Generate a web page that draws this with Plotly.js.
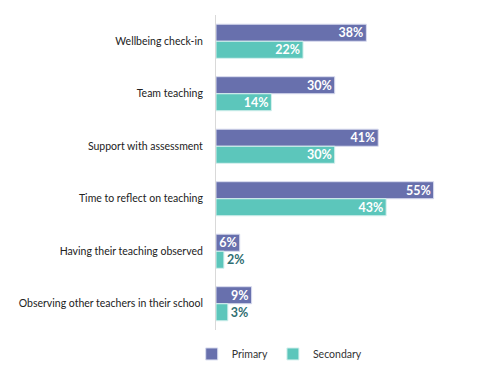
<!DOCTYPE html>
<html>
<head>
<meta charset="utf-8">
<script src="https://cdn.plot.ly/plotly-3.0.1.min.js"></script>
<style>html,body{margin:0;padding:0;background:#fff;}#chart{width:500px;height:382px;}</style>
</head>
<body>
<div id="chart"></div>
<script>
const categories = [
  "Wellbeing check-in",
  "Team teaching",
  "Support with assessment",
  "Time to reflect on teaching",
  "Having their teaching observed",
  "Observing other teachers in their school"
];
const primary = [38, 30, 41, 55, 6, 9];
const secondary = [22, 14, 30, 43, 2, 3];

function pos(vals){ return vals.map(v => v >= 5 ? 'inside' : 'outside'); }
function labels(vals){ return vals.map(v => v + '%'); }

const font = "Lato, 'Open Sans', sans-serif";

const traces = [
  {
    type: 'bar', orientation: 'h', name: 'Primary',
    y: categories, x: primary,
    text: labels(primary), textposition: pos(primary),
    insidetextanchor: 'end', constraintext: 'none',
    insidetextfont: {color: '#ffffff', size: 12.5, family: font, weight: 'bold'},
    outsidetextfont: {color: '#2f6e72', size: 12.5, family: font, weight: 'bold'},
    marker: {color: '#6870ad', line: {color: '#d9dcef', width: 1}},
    cliponaxis: false, hoverinfo: 'skip'
  },
  {
    type: 'bar', orientation: 'h', name: 'Secondary',
    y: categories, x: secondary,
    text: labels(secondary), textposition: pos(secondary),
    insidetextanchor: 'end', constraintext: 'none',
    insidetextfont: {color: '#ffffff', size: 12.5, family: font, weight: 'bold'},
    outsidetextfont: {color: '#2f6e72', size: 12.5, family: font, weight: 'bold'},
    marker: {color: '#5cc6bb', line: {color: '#d6f1ee', width: 1}},
    cliponaxis: false, hoverinfo: 'skip'
  }
];

const layout = {
  width: 500, height: 382,
  margin: {l: 216, r: 7, t: 15, b: 52},
  paper_bgcolor: '#ffffff', plot_bgcolor: '#ffffff',
  font: {family: font, size: 10.5, color: '#222222'},
  barmode: 'group', bargap: 0.35, bargroupgap: 0,
  showlegend: true,
  legend: {orientation: 'h', x: 0.23, xanchor: 'center', y: -0.03, yanchor: 'top',
           font: {size: 10.5, color: '#333333', family: font}, itemwidth: 30, traceorder: 'normal'},
  xaxis: {range: [0, 70], showgrid: false, zeroline: false, showticklabels: false,
          showline: false, fixedrange: true},
  yaxis: {autorange: 'reversed', showline: true, linecolor: '#d9d9d9', linewidth: 1,
          ticks: 'outside', ticklen: 10, tickcolor: 'rgba(0,0,0,0)',
          tickfont: {size: 10.5, color: '#222222', family: font}, fixedrange: true}
};

Plotly.newPlot('chart', traces, layout, {displayModeBar: false, staticPlot: true});
</script>
</body>
</html>
